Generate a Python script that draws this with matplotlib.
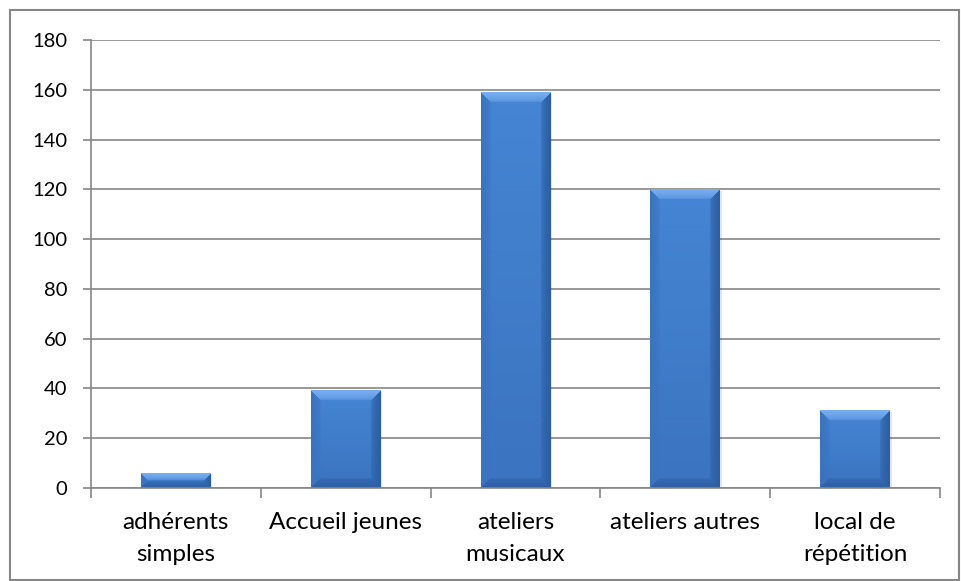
import numpy as np
import matplotlib
matplotlib.use('Agg')
import matplotlib.pyplot as plt
from matplotlib.patches import Rectangle

# chart data
categories = ['adhérents\nsimples', 'Accueil jeunes', 'ateliers\nmusicaux',
              'ateliers autres', 'local de\nrépétition']
values = [6, 39, 159, 120, 31]
y_ticks = list(range(0, 181, 20))

plt.rcParams['font.family'] = ['Lato', 'DejaVu Sans']

GRID = '#868686'
TOP = np.array([0x78, 0xAE, 0xF0]) / 255
LEFT = np.array([0x3A, 0x74, 0xC0]) / 255
RIGHT = np.array([0x2C, 0x5E, 0xA2]) / 255
BOTTOM = np.array([0x2E, 0x60, 0xA4]) / 255
FACE_T = np.array([0x45, 0x85, 0xD3]) / 255
FACE_B = np.array([0x3B, 0x74, 0xC0]) / 255


def bevel_image(w, h, b=10):
    b = max(1, min(b, h // 2, w // 2))
    ii, jj = np.mgrid[0:h, 0:w]
    t = (ii / max(h - 1, 1))[..., None]
    img = FACE_T * (1 - t) + FACE_B * t
    dists = np.stack([ii, h - 1 - ii, jj, w - 1 - jj])
    nearest = dists.argmin(axis=0)
    dmin = dists.min(axis=0)
    # soft blend towards the edge colour inside the bevel band
    wgt = np.clip(1 - dmin / b, 0, 1) ** 0.45
    wgt[dmin >= b] = 0
    for k, col in enumerate([TOP, BOTTOM, LEFT, RIGHT]):
        m = (nearest == k)
        img[m] = img[m] * (1 - wgt[m][:, None]) + col * wgt[m][:, None]
    return np.clip(img, 0, 1)


fig = plt.figure(figsize=(9.62, 5.81), dpi=100)
ax = fig.add_axes([0.0946, 0.160, 0.8825, 0.771])

x = np.arange(len(categories))
bars = ax.bar(x, values, width=0.41, color='none', zorder=3)

ax.set_xlim(-0.5, len(categories) - 0.5)
ax.set_ylim(0, 180)
ax.set_yticks(y_ticks)
ax.set_xticks(x)
ax.set_xticklabels(categories, fontsize=17.5, linespacing=1.65)
ax.set_xticks(np.arange(-0.5, len(categories), 1), minor=True)
ax.tick_params(axis='x', which='major', length=0, pad=17)
ax.tick_params(axis='x', which='minor', length=7, color=GRID, width=1.2)
ax.tick_params(axis='y', length=6, color=GRID, width=1.2, labelsize=14.5, pad=11)

ax.grid(axis='y', color=GRID, linewidth=1.2, zorder=0)
ax.set_axisbelow(True)
for s in ['top', 'right']:
    ax.spines[s].set_visible(False)
for s in ['left', 'bottom']:
    ax.spines[s].set_color(GRID)
    ax.spines[s].set_linewidth(1.2)
    ax.spines[s].set_zorder(4)

# draw gradient shading inside each bar
fig.canvas.draw()
for bar in bars:
    bx, by, bw, bh = bar.get_x(), bar.get_y(), bar.get_width(), bar.get_height()
    p0 = ax.transData.transform((bx, by))
    p1 = ax.transData.transform((bx + bw, by + bh))
    wpx = int(round(p1[0] - p0[0]))
    hpx = int(round(p1[1] - p0[1]))
    # faint shadow
    ax.add_patch(Rectangle((bx + 0.01, by), bw, bh - 0.5, color='#000000',
                           alpha=0.10, zorder=2, linewidth=0))
    ax.imshow(bevel_image(wpx, hpx), extent=(bx, bx + bw, by, by + bh),
              aspect='auto', origin='upper', interpolation='bilinear', zorder=3)
ax.set_xlim(-0.5, len(categories) - 0.5)
ax.set_ylim(0, 180)

# outer chart border
fig.add_artist(Rectangle((9.5 / 962, 1 - 580 / 581), 950 / 962, 570 / 581,
                         transform=fig.transFigure, fill=False,
                         edgecolor=GRID, linewidth=1.5))

fig.savefig('out.png', dpi=100)
